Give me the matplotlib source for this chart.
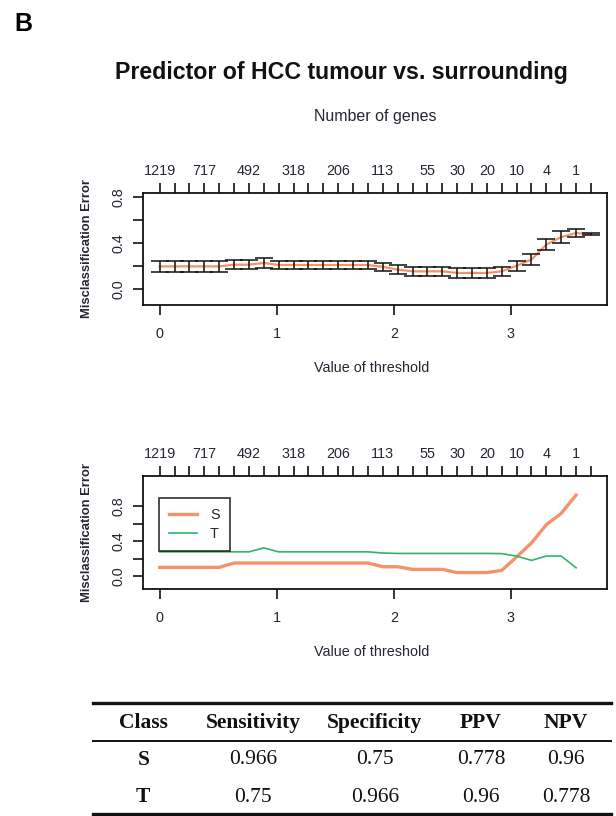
import numpy as np
import matplotlib.pyplot as plt
from matplotlib.lines import Line2D

plt.rcParams['font.family'] = ['Liberation Sans', 'DejaVu Sans']
txt_col = '#262633'
orange = '#F4926C'
green = '#33B36B'

# threshold values (one per top tick)
threshold = [0.000, 0.127, 0.254, 0.381, 0.508, 0.635, 0.762, 0.889, 1.016, 1.143,
             1.270, 1.397, 1.524, 1.651, 1.778, 1.905, 2.032, 2.159, 2.286, 2.413,
             2.540, 2.667, 2.794, 2.921, 3.048, 3.175, 3.302, 3.429, 3.556, 3.683]
# number of genes shown on the top axis (R drops the labels that overlap)
gene_labels = ['1219', '', '', '717', '', '', '492', '', '', '318',
               '', '', '206', '', '', '113', '', '', '55', '',
               '30', '', '20', '', '10', '', '4', '', '1', '']

# overall cross-validated error and its standard error
cv_err = [0.200, 0.200, 0.200, 0.200, 0.200, 0.215, 0.215, 0.230, 0.212, 0.212,
          0.212, 0.212, 0.212, 0.212, 0.212, 0.196, 0.172, 0.157, 0.157, 0.157,
          0.143, 0.143, 0.143, 0.157, 0.205, 0.260, 0.390, 0.455, 0.490, 0.480]
cv_se = [0.045, 0.045, 0.045, 0.045, 0.045, 0.042, 0.042, 0.040, 0.035, 0.035,
         0.035, 0.035, 0.035, 0.035, 0.035, 0.035, 0.040, 0.040, 0.040, 0.040,
         0.045, 0.045, 0.045, 0.040, 0.045, 0.045, 0.048, 0.050, 0.035, 0.010]

# class-wise error
err_S = [0.100, 0.100, 0.100, 0.100, 0.100, 0.150, 0.150, 0.150, 0.150, 0.150,
         0.150, 0.150, 0.150, 0.150, 0.150, 0.107, 0.107, 0.077, 0.077, 0.077,
         0.040, 0.040, 0.040, 0.065, 0.220, 0.380, 0.590, 0.720, 0.930, np.nan]
err_T = [0.278, 0.278, 0.278, 0.278, 0.278, 0.278, 0.278, 0.324, 0.278, 0.278,
         0.278, 0.278, 0.278, 0.278, 0.278, 0.265, 0.260, 0.260, 0.260, 0.260,
         0.260, 0.260, 0.260, 0.258, 0.230, 0.180, 0.230, 0.230, 0.095, np.nan]

# summary table
table_cols = ['Class', 'Sensitivity', 'Specificity', 'PPV', 'NPV']
table_rows = [['S', '0.966', '0.75', '0.778', '0.96'],
              ['T', '0.75', '0.966', '0.96', '0.778']]

fig = plt.figure(figsize=(6.16, 8.16), dpi=100)
W, H = 616.0, 816.0


def style_axes(ax, ylim):
    ax.set_xlim(-0.14, 3.82)
    ax.set_ylim(*ylim)
    for s in ax.spines.values():
        s.set_linewidth(1.3)
        s.set_color('#111111')
    ax.set_xticks([0, 1, 2, 3])
    ax.set_xticklabels(['0', '1', '2', '3'])
    ax.set_yticks([0.0, 0.2, 0.4, 0.6, 0.8])
    ax.set_yticklabels(['0.0', '', '0.4', '', '0.8'])
    ax.tick_params(direction='out', length=7, width=1.2, labelsize=10.4,
                   labelcolor=txt_col, color='#111111')
    ax.tick_params(axis='x', pad=9)
    ax.tick_params(axis='y', labelrotation=90, pad=6)
    for lbl in ax.get_yticklabels():
        lbl.set_va('center')
    top = ax.secondary_xaxis('top')
    top.set_xticks(threshold)
    top.set_xticklabels(gene_labels)
    top.tick_params(direction='out', length=7, width=1.2, labelsize=10.4,
                    labelcolor=txt_col, color='#111111', pad=4)
    top.spines['top'].set_visible(False)


# top panel: overall error with error bars
ax1 = fig.add_axes([143.3 / W, 1 - 305 / H, 463.7 / W, 111.7 / H])
style_axes(ax1, (-0.136, 0.836))
ax1.plot(threshold, cv_err, color=orange, lw=1.6, zorder=2)
ax1.errorbar(threshold, cv_err, yerr=cv_se, fmt='none', ecolor='#111111',
             elinewidth=1.1, capsize=6.2, capthick=1.1, zorder=3)

# bottom panel: class-wise error
ax2 = fig.add_axes([143.3 / W, 1 - 588.5 / H, 463.7 / W, 112.5 / H])
style_axes(ax2, (-0.143, 1.15))
ax2.plot(threshold, err_S, color=orange, lw=2.4, label='S')
ax2.plot(threshold, err_T, color=green, lw=1.2, label='T')
leg = ax2.legend(loc='upper left', bbox_to_anchor=(0.0345, 0.803), borderaxespad=0,
                 fancybox=False, edgecolor='#111111', fontsize=10.4,
                 handlelength=1.9, handletextpad=0.9, borderpad=0.7, labelspacing=0.3)
leg.get_frame().set_linewidth(1.3)
for t in leg.get_texts():
    t.set_color(txt_col)

# texts
fig.text(14 / W, 1 - 24 / H, 'B', fontsize=18, fontweight='bold', va='center', ha='left')
fig.text(341 / W, 1 - 72 / H, 'Predictor of HCC tumour vs. surrounding',
         fontsize=16.7, fontweight='bold', ha='center', va='center', color='#111111')
fig.text(375 / W, 1 - 117 / H, 'Number of genes', fontsize=11.5, ha='center',
         va='center', color=txt_col)
for yc, yl in [(249, 368), (532, 652)]:
    fig.text(87 / W, 1 - yc / H, 'Misclassification Error', fontsize=9.4,
             fontweight='bold', rotation=90, ha='center', va='center', color=txt_col)
    fig.text(372 / W, 1 - yl / H, 'Value of threshold', fontsize=10.4,
             ha='center', va='center', color=txt_col)

# table
col_x = [143.3, 253, 374.7, 481, 566]
row_y = [760, 797]
for x, name in zip(col_x, table_cols):
    fig.text(x / W, 1 - 723 / H, name, family='Liberation Serif', fontsize=15.5,
             fontweight='bold', ha='center', va='center', color='#111111')
for y, row in zip(row_y, table_rows):
    for j, (x, val) in enumerate(zip(col_x, row)):
        fig.text(x / W, 1 - y / H, val, family='Liberation Serif', fontsize=15.5,
                 fontweight='bold' if j == 0 else 'normal',
                 ha='center', va='center', color='#111111')
for y, lw in [(703, 2.4), (740.7, 1.4), (814, 2.4)]:
    fig.add_artist(Line2D([92.7 / W, 611 / W], [1 - y / H, 1 - y / H],
                          color='#111111', lw=lw))

fig.savefig('out.png', dpi=100)
